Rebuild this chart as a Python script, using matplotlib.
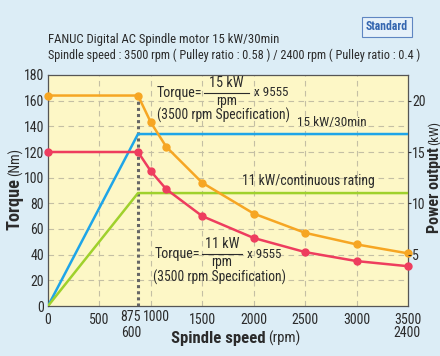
import matplotlib
matplotlib.use("Agg")
import matplotlib.pyplot as plt
from matplotlib import font_manager as fm

# Spindle motor output curves (torque in Nm, speed in rpm)
rpm_pts = [0, 875, 1000, 1150, 1500, 2000, 2500, 3000, 3500]
torque_30min = [164, 164, 143, 124, 96, 72, 57, 48, 41]
torque_cont = [120, 120, 105, 91, 70, 53, 42, 35, 31]

# power lines drawn against the torque axis
power_rpm = [0, 875, 3500]
power_30min_nm = [0, 134, 134]
power_cont_nm = [0, 88, 88]

base_speed = 875
x_ticks = [0, 500, 1500, 2000, 2500, 3000, 3500]
y_ticks = [0, 20, 40, 60, 80, 100, 120, 140, 160, 180]
kw_ticks = [5, 10, 15, 20]

# prefer a narrow face if one is available
ttf = fm.fontManager.ttflist
names = {f.name for f in ttf}
family = 'Roboto'
for cand in ['Roboto Condensed', 'Liberation Sans Narrow', 'Open Sans Condensed']:
    if cand in names:
        family = cand
        break
plt.rcParams['font.family'] = [family, 'DejaVu Sans']

W, H = 440, 356
BG = "#dcedf6"
PLOT_BG = "#fdf7c6"
ORANGE = "#f6a623"
RED = "#ee3d5e"
BLUE = "#1ea5e8"
GREEN = "#9fd12c"
TXT = "#2b2b2b"
GRID = "#c4bfa4"

fig = plt.figure(figsize=(W / 100, H / 100), dpi=100, facecolor=BG)
renderer = fig.canvas.get_renderer()


def px(x, y):
    return x / W, 1 - y / H


def ftext(x, y, s, width=None, size=9, **kw):
    # place a text in pixel coords, optionally scaled to a given width (or height if rotated)
    t = fig.text(*px(x, y), s, color=kw.pop("color", TXT), fontsize=size, **kw)
    if width:
        bb = t.get_window_extent(renderer)
        span = bb.height if t.get_rotation() == 90 else bb.width
        t.set_fontsize(size * width / span)
    return t


ax = fig.add_axes([48 / W, 1 - 306 / H, 360 / W, 231 / H], facecolor=PLOT_BG)
ax.set_xlim(0, 3500)
ax.set_ylim(0, 180)

for x in [500, 1000, 1500, 2000, 2500, 3000]:
    ax.axvline(x, color=GRID, lw=0.8, ls=(0, (5, 4)), zorder=1)
for y in y_ticks[1:-1]:
    ax.axhline(y, color=GRID, lw=0.8, ls=(0, (5, 4)), zorder=1)

ax.plot([base_speed, base_speed], [0, torque_30min[1]], color="#666666",
        lw=2.2, ls=(0, (1, 1)), zorder=2)

ax.plot(power_rpm, power_30min_nm, color=BLUE, lw=1.8, zorder=3)
ax.plot(power_rpm, power_cont_nm, color=GREEN, lw=1.8, zorder=3)
ax.plot(rpm_pts, torque_30min, color=ORANGE, lw=1.8, marker="o", ms=5,
        zorder=4, clip_on=False)
ax.plot(rpm_pts, torque_cont, color=RED, lw=1.8, marker="o", ms=5,
        zorder=4, clip_on=False)

for s in ax.spines.values():
    s.set_color("#555555")
    s.set_linewidth(0.9)

ax.set_yticks(y_ticks)
ax.tick_params(axis="y", labelsize=10, length=0, pad=3, colors=TXT)
ax.set_xticks(x_ticks)
ax.tick_params(axis="x", labelsize=10, length=0, pad=5, colors=TXT)

# crowded labels near the base speed
ftext(141, 317, "875", size=10, ha="right", va="center")
ftext(143, 317, "1000", size=10, ha="left", va="center")
ftext(131, 333, "600", size=10, ha="center", va="center")
ftext(407, 333, "2400", size=10, ha="center", va="center")

axr = ax.twinx()
axr.set_ylim(0, 22.5)
axr.set_yticks(kw_ticks)
axr.tick_params(axis="y", labelsize=10, length=2, pad=1, colors=TXT)
for s in axr.spines.values():
    s.set_visible(False)

# titles
ftext(48, 40, "FANUC Digital AC Spindle motor 15 kW/30min", width=232, va="center")
ftext(48, 55, "Spindle speed : 3500 rpm ( Pulley ratio : 0.58 ) / 2400 rpm ( Pulley ratio : 0.4 )",
      width=372, va="center")
ftext(387, 27, "Standard", size=8.5, fontweight="bold", color="#3566b0",
      ha="center", va="center",
      bbox=dict(boxstyle="square,pad=0.3", fc="#e6f1fa", ec="#5f86c2", lw=0.8))

# axis titles
ftext(171, 338, "Spindle speed", width=94, fontweight="bold", ha="left", va="center")
ftext(268, 338, "(rpm)", width=32, ha="left", va="center")
ftext(15, 230, "Torque", width=52, fontweight="bold", rotation=90, ha="center", va="bottom")
ftext(15, 176, "(Nm)", width=28, rotation=90, ha="center", va="bottom")
ftext(434, 233, "Power output", width=86, fontweight="bold", rotation=90,
      ha="center", va="bottom")
ftext(434, 145, "(kW)", width=24, rotation=90, ha="center", va="bottom")


# formula annotations
def formula(x, y, num, x_mult):
    ftext(x, y, "Torque=", width=46, va="center")
    cx = (x + 47 + x_mult - 5) / 2
    ftext(cx, y - 10, num, width=35, ha="center", va="center")
    fig.add_artist(plt.Line2D([(x + 47) / W, (x_mult - 5) / W], [1 - y / H] * 2,
                              color=TXT, lw=0.8))
    ftext(cx, y + 8, "rpm", width=21, ha="center", va="center")
    ftext(x_mult, y, "x 9555", width=35, va="center")


formula(157, 93, "15 kW", 254)
ftext(157, 115, "(3500 rpm Specification)", width=134, va="center")
formula(155, 254, "11 kW", 247)
ftext(153, 277, "(3500 rpm Specification)", width=134, va="center")

ftext(297, 122, "15 kW/30min", width=70, va="center")
ftext(242, 181, "11 kW/continuous rating", width=134, va="center")

fig.savefig("out.png", dpi=100, facecolor=BG)
